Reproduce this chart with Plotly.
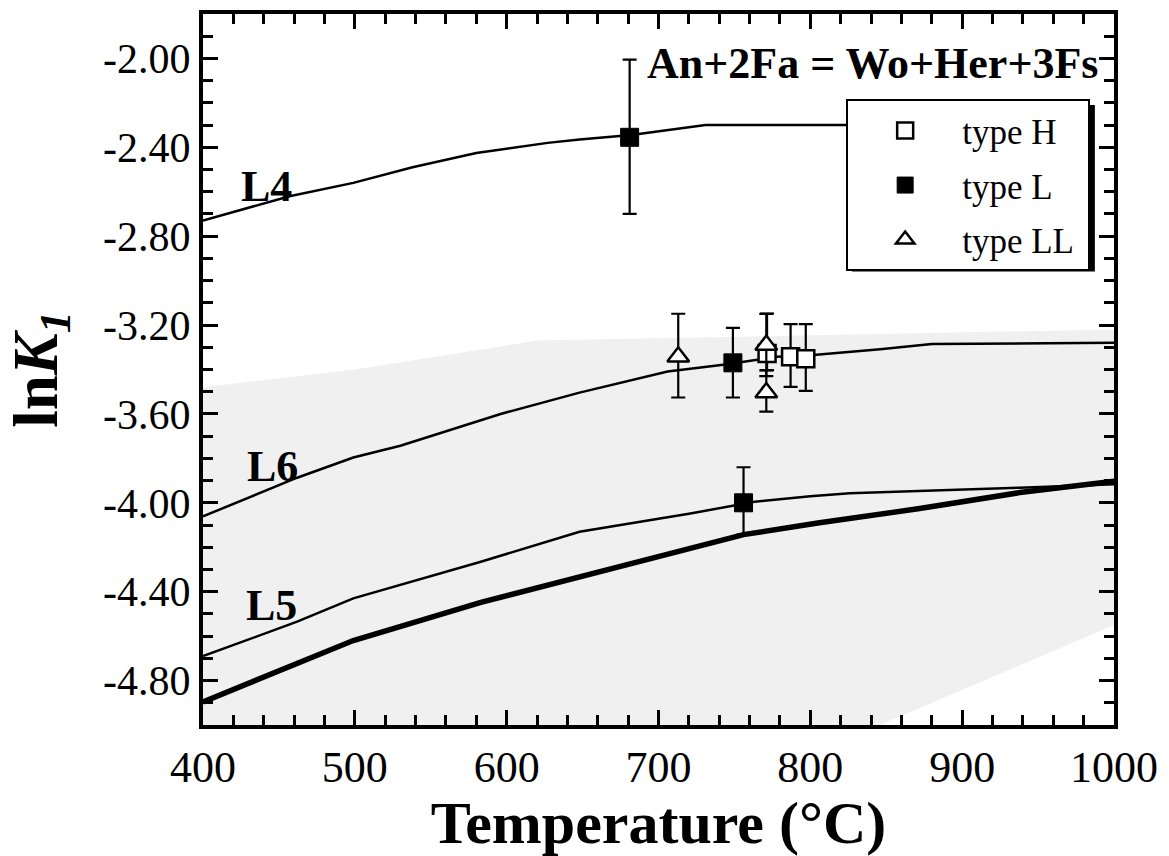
import plotly.graph_objects as go

# ---- curves (temperature °C, lnK1) ----
l4_t = [400, 437, 457, 499, 538, 580, 627, 648, 682, 731, 900]
l4_v = [-2.73, -2.657, -2.62, -2.56, -2.49, -2.426, -2.38, -2.365, -2.345, -2.30, -2.30]

l6_t = [400, 462, 499, 530, 596, 648, 706, 744, 778, 802, 846, 880, 1000]
l6_v = [-4.061, -3.887, -3.796, -3.743, -3.60, -3.504, -3.409, -3.378, -3.343, -3.335, -3.309, -3.285, -3.28]

l5_t = [400, 462, 499, 583, 648, 721, 749, 762, 800, 826, 938, 1000]
l5_v = [-4.69, -4.535, -4.43, -4.265, -4.13, -4.048, -4.013, -3.996, -3.97, -3.957, -3.932, -3.917]

thick_t = [400, 451, 499, 583, 650, 721, 756, 806, 872, 938, 1000]
thick_v = [-4.896, -4.752, -4.62, -4.448, -4.33, -4.20, -4.143, -4.09, -4.026, -3.954, -3.903]

# ---- data points ----
h_t = [771.5, 787, 797]
h_v = [-3.328, -3.343, -3.352]
h_ep = [0.18, 0.147, 0.156]
h_em = [0.075, 0.135, 0.144]

l_t = [681, 749, 756]
l_v = [-2.355, -3.37, -4.00]
l_ep = [0.35, 0.157, 0.16]
l_em = [0.345, 0.156, 0.143]

ll_t = [713, 771, 771]
ll_v = [-3.343, -3.29, -3.504]
ll_ep = [0.194, 0.14, 0.10]
ll_em = [0.183, 0.14, 0.086]

x_ticks = [400, 500, 600, 700, 800, 900, 1000]
x_ticklabels = ["400", "500", "600", "700", "800", "900", "1000"]
y_ticks = [-2.0, -2.4, -2.8, -3.2, -3.6, -4.0, -4.4, -4.8]
y_ticklabels = ["-2.00", "-2.40", "-2.80", "-3.20", "-3.60", "-4.00", "-4.40", "-4.80"]

curve_labels = ["L4", "L6", "L5"]
curve_label_t = [441.5, 445.5, 444.8]
curve_label_v = [-2.578, -3.835, -4.46]

series_names = ["type H", "type L", "type LL"]

reaction = "An+2Fa = Wo+Her+3Fs"

SERIF = "Liberation Serif"
PAD = "\u00a0"

fig = go.Figure()

thin = dict(color="black", width=2.5)
for t, v in [(l4_t, l4_v), (l6_t, l6_v), (l5_t, l5_v)]:
    fig.add_trace(go.Scatter(x=t, y=v, mode="lines", line=thin, showlegend=False,
                             hoverinfo="skip"))
fig.add_trace(go.Scatter(x=thick_t, y=thick_v, mode="lines",
                         line=dict(color="black", width=5.5), showlegend=False,
                         hoverinfo="skip"))

err_style = dict(type="data", symmetric=False, color="black", thickness=2.2, width=7)

fig.add_trace(go.Scatter(
    x=h_t, y=h_v, mode="markers", name=series_names[0] + PAD, legendgroup="a",
    marker=dict(symbol="square", size=17, color="white",
                line=dict(color="black", width=2.5)),
    error_y=dict(array=h_ep, arrayminus=h_em, **err_style)))
fig.add_trace(go.Scatter(
    x=l_t, y=l_v, mode="markers", name=series_names[1] + PAD, legendgroup="b",
    marker=dict(symbol="square", size=18, color="black",
                line=dict(color="black", width=1)),
    error_y=dict(array=l_ep, arrayminus=l_em, **err_style)))
fig.add_trace(go.Scatter(
    x=ll_t, y=ll_v, mode="markers", name=series_names[2] + PAD, legendgroup="c",
    marker=dict(symbol="triangle-up", size=19, color="white",
                line=dict(color="black", width=2.5)),
    error_y=dict(array=ll_ep, arrayminus=ll_em, **err_style)))

for txt, t, v in zip(curve_labels, curve_label_t, curve_label_v):
    fig.add_annotation(x=t, y=v, text="<b>%s</b>" % txt, showarrow=False,
                       font=dict(family=SERIF, size=44, color="black"),
                       xanchor="center", yanchor="middle")

fig.add_annotation(x=991, y=-2.025, text="<b>%s</b>" % reaction, showarrow=False,
                   font=dict(family=SERIF, size=44, color="black"),
                   xanchor="right", yanchor="middle")

# light grey background tone of the scanned figure
fig.add_shape(type="path", xref="x", yref="y", layer="below",
              path="M 400 -3.48 L 500 -3.40 L 620 -3.27 L 1000 -3.22 L 1000 -4.55 "
                   "L 846 -5.0 L 400 -5.0 Z",
              fillcolor="#f0f0f0", line=dict(width=0))

# legend drop shadow (legend box is drawn on top of it)
fig.add_shape(type="rect", xref="paper", yref="paper", layer="above",
              x0=0.7124, x1=0.979, y0=0.638, y1=0.872,
              fillcolor="black", line=dict(width=0))

axis_common = dict(
    showline=True, linecolor="black", linewidth=4, mirror="allticks",
    ticks="inside", ticklen=15, tickwidth=3, tickcolor="black",
    showgrid=False, zeroline=False,
)

fig.update_xaxes(range=[400, 1000], tickvals=x_ticks, ticktext=x_ticklabels,
                 tickfont=dict(family=SERIF, size=44, color="black"),
                 minor=dict(dtick=20, tick0=400, ticks="inside", ticklen=10,
                            tickwidth=3, tickcolor="black"),
                 title=dict(text="<b>Temperature (°C)</b>",
                            font=dict(family=SERIF, size=60, color="black"),
                            standoff=12),
                 **axis_common)
fig.update_yaxes(range=[-5.0, -1.80], tickvals=y_ticks, ticktext=y_ticklabels,
                 tickfont=dict(family=SERIF, size=42, color="black"),
                 minor=dict(dtick=0.1, tick0=-2.0, ticks="inside", ticklen=10,
                            tickwidth=3, tickcolor="black"),
                 title=dict(text="<b>ln<i>K</i><sub><i>1</i></sub></b>",
                            font=dict(family=SERIF, size=63, color="black"),
                            standoff=26),
                 **axis_common)

fig.update_layout(
    width=1169, height=856,
    margin=dict(l=203, r=55, t=10, b=111),
    paper_bgcolor="white", plot_bgcolor="white",
    showlegend=True,
    legend=dict(x=0.706, y=0.880, xanchor="left", yanchor="top",
                bgcolor="white", bordercolor="black", borderwidth=2,
                font=dict(family=SERIF, size=35, color="black"),
                traceorder="grouped", tracegroupgap=6, itemwidth=104),
)

fig.write_html("out.html")
